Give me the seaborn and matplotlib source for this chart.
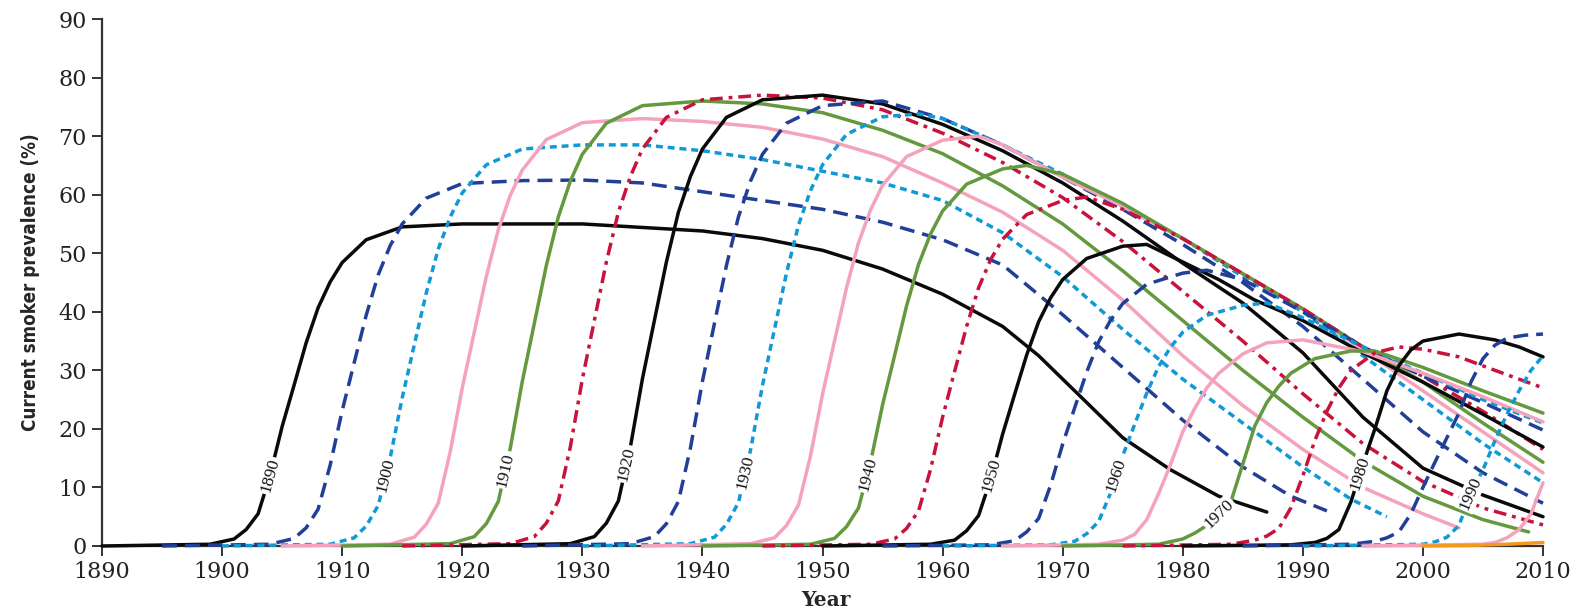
import numpy as np
import pandas as pd
import matplotlib
matplotlib.use("Agg")
import matplotlib.pyplot as plt
from matplotlib import font_manager as fm
import seaborn as sns

# ---------------- data ----------------
c1890_year = [1890, 1899, 1901, 1902, 1903, 1904, 1905, 1906, 1907, 1908, 1909, 1910, 1912, 1915, 1920, 1930, 1940, 1945, 1950, 1955, 1960, 1965, 1968, 1971, 1975, 1979, 1983, 1987]
c1890_val = [0, 0.3, 1.2, 2.8, 5.5, 12.1, 20.4, 27.5, 34.7, 40.7, 45.1, 48.4, 52.3, 54.5, 55, 55, 53.8, 52.5, 50.5, 47.3, 43, 37.5, 32.5, 26.5, 18.5, 13, 8.5, 5.8]

c1895_year = [1895, 1904, 1906, 1907, 1908, 1909, 1910, 1911, 1912, 1913, 1914, 1915, 1917, 1920, 1925, 1930, 1935, 1940, 1945, 1950, 1955, 1960, 1965, 1970, 1975, 1980, 1985, 1989, 1992]
c1895_val = [0, 0.3, 1.3, 3.1, 6.3, 13.8, 23.1, 31.3, 39.4, 46.3, 51.3, 55, 59.4, 61.9, 62.4, 62.5, 62, 60.5, 59, 57.5, 55.3, 52.3, 48, 39.5, 30.5, 21.5, 13.5, 8.5, 6]

c1900_year = [1900, 1909, 1911, 1912, 1913, 1914, 1915, 1916, 1917, 1918, 1919, 1920, 1922, 1925, 1930, 1935, 1940, 1945, 1950, 1955, 1960, 1965, 1970, 1975, 1980, 1985, 1990, 1994, 1997]
c1900_val = [0, 0.3, 1.4, 3.4, 6.9, 15.1, 25.3, 34.3, 43.2, 50.7, 56.2, 60.3, 65.1, 67.8, 68.5, 68.5, 67.5, 66, 64, 62, 59, 53.5, 46, 37, 28.5, 21, 13.5, 8, 5]

c1905_year = [1905, 1914, 1916, 1917, 1918, 1919, 1920, 1921, 1922, 1923, 1924, 1925, 1927, 1930, 1935, 1940, 1945, 1950, 1955, 1960, 1965, 1970, 1975, 1980, 1985, 1990, 1995, 2000, 2003]
c1905_val = [0, 0.3, 1.5, 3.7, 7.3, 16.1, 27, 36.5, 46, 54, 59.9, 64.2, 69.4, 72.3, 73, 72.5, 71.5, 69.5, 66.5, 62, 57, 50.5, 42, 32.5, 24, 16.5, 10, 5.5, 3.1]

c1910_year = [1910, 1919, 1921, 1922, 1923, 1924, 1925, 1926, 1927, 1928, 1929, 1930, 1932, 1935, 1940, 1945, 1950, 1955, 1960, 1965, 1970, 1975, 1980, 1985, 1990, 1995, 2000, 2005, 2008.8]
c1910_val = [0, 0.4, 1.6, 3.8, 7.6, 16.7, 28.1, 38, 47.9, 56.2, 62.3, 66.9, 72.2, 75.2, 76, 75.5, 74, 71, 67, 61.5, 55, 47, 38.5, 30, 22, 14.5, 8.5, 4.5, 2.4]

c1915_year = [1915, 1924, 1926, 1927, 1928, 1929, 1930, 1931, 1932, 1933, 1934, 1935, 1937, 1940, 1945, 1950, 1955, 1960, 1965, 1970, 1975, 1980, 1985, 1990, 1995, 2000, 2005, 2010]
c1915_val = [0, 0.4, 1.6, 3.9, 7.7, 16.9, 28.5, 38.5, 48.5, 57, 63.1, 67.8, 73.2, 76.2, 77, 76.5, 74.5, 70.5, 65.5, 59.5, 52, 43.5, 35, 26, 17.5, 11, 6.5, 3.6]

c1920_year = [1920, 1929, 1931, 1932, 1933, 1934, 1935, 1936, 1937, 1938, 1939, 1940, 1942, 1945, 1950, 1955, 1960, 1965, 1970, 1975, 1980, 1985, 1990, 1995, 2000, 2005, 2010]
c1920_val = [0, 0.4, 1.6, 3.9, 7.7, 16.9, 28.5, 38.5, 48.5, 57, 63.1, 67.8, 73.2, 76.2, 77, 75.5, 72, 67.5, 62, 55.5, 48.3, 41.5, 33, 22, 13.3, 8.7, 5]

c1925_year = [1925, 1934, 1936, 1937, 1938, 1939, 1940, 1941, 1942, 1943, 1944, 1945, 1947, 1950, 1955, 1960, 1965, 1970, 1975, 1980, 1985, 1990, 1995, 2000, 2005, 2010]
c1925_val = [0, 0.4, 1.6, 3.8, 7.6, 16.7, 28.1, 38, 47.9, 56.2, 62.3, 66.9, 72.2, 75.2, 76, 73, 68.5, 63, 57.5, 51.5, 45, 37.5, 28.5, 19.5, 12.5, 7.3]

c1930_year = [1930, 1939, 1941, 1942, 1943, 1944, 1945, 1946, 1947, 1948, 1949, 1950, 1952, 1955, 1958, 1960, 1965, 1970, 1975, 1980, 1985, 1990, 1995, 2000, 2005, 2010]
c1930_val = [0, 0.4, 1.5, 3.7, 7.4, 16.3, 27.4, 37, 46.6, 54.8, 60.7, 65.1, 70.3, 73.3, 73.8, 73, 68.5, 63.5, 58, 52.5, 46, 40, 32.5, 25, 17.5, 10.8]

c1935_year = [1935, 1944, 1946, 1947, 1948, 1949, 1950, 1951, 1952, 1953, 1954, 1955, 1957, 1960, 1963, 1965, 1970, 1975, 1980, 1985, 1990, 1995, 2000, 2005, 2010]
c1935_val = [0, 0.4, 1.4, 3.5, 7, 15.4, 25.9, 35, 44.1, 51.8, 57.4, 61.6, 66.5, 69.3, 70, 68.5, 63, 58, 52.5, 46.5, 40.5, 33.5, 26.5, 19.5, 12.5]

c1940_year = [1940, 1949, 1951, 1952, 1953, 1954, 1955, 1956, 1957, 1958, 1959, 1960, 1962, 1965, 1967, 1970, 1975, 1980, 1985, 1990, 1995, 2000, 2005, 2010]
c1940_val = [0, 0.3, 1.3, 3.3, 6.5, 14.3, 24.1, 32.5, 41, 48.1, 53.3, 57.2, 61.8, 64.4, 65, 63.5, 58.5, 52.5, 46.5, 40.5, 34, 28, 21, 14.3]

c1945_year = [1945, 1954, 1956, 1957, 1958, 1959, 1960, 1961, 1962, 1963, 1964, 1965, 1967, 1970, 1972, 1975, 1980, 1985, 1990, 1995, 2000, 2005, 2010]
c1945_val = [0, 0.3, 1.2, 3, 6, 13.1, 22, 29.8, 37.5, 44.1, 48.9, 52.4, 56.6, 59, 59.6, 57.5, 52.5, 46.5, 40.5, 34, 29, 23, 16.5]

c1950_year = [1950, 1959, 1961, 1962, 1963, 1964, 1965, 1966, 1967, 1968, 1969, 1970, 1972, 1975, 1977, 1980, 1983, 1986, 1990, 1995, 2000, 2005, 2010]
c1950_val = [0, 0.3, 1.0, 2.6, 5.2, 11.4, 19.1, 25.9, 32.6, 38.3, 42.4, 45.5, 49.1, 51.2, 51.5, 48.5, 45.5, 42, 38.5, 33, 28, 22.5, 16.9]

c1955_year = [1955, 1964, 1966, 1967, 1968, 1969, 1970, 1971, 1972, 1973, 1974, 1975, 1977, 1980, 1982, 1985, 1990, 1995, 2000, 2005, 2010]
c1955_val = [0, 0.2, 0.9, 2.4, 4.7, 10.4, 17.4, 23.6, 29.7, 34.9, 38.6, 41.4, 44.7, 46.6, 47.1, 45.5, 40, 34, 29, 24.5, 19.8]

c1960_year = [1960, 1969, 1971, 1972, 1973, 1974, 1975, 1976, 1977, 1978, 1979, 1980, 1982, 1985, 1987, 1990, 1995, 2000, 2005, 2010]
c1960_val = [0, 0.2, 0.8, 2.1, 4.2, 9.1, 15.4, 20.8, 26.1, 30.7, 34, 36.5, 39.4, 41.1, 41.5, 39, 34, 29.5, 25, 21]

c1965_year = [1965, 1973, 1975, 1976, 1977, 1978, 1979, 1980, 1981, 1982, 1983, 1985, 1987, 1990, 1995, 2000, 2005, 2010]
c1965_val = [0, 0.3, 1.0, 2, 4.5, 9, 14, 19.5, 23.5, 27, 29.5, 32.8, 34.7, 35.2, 33.2, 29.5, 25.5, 21.2]

c1970_year = [1970, 1978, 1980, 1981, 1982, 1983, 1984, 1985, 1986, 1987, 1988, 1989, 1991, 1994, 1996, 2000, 2005, 2010]
c1970_val = [0, 0.3, 1.2, 2.2, 3.5, 5.5, 7.5, 14, 20.5, 24.5, 27.3, 29.5, 32, 33.3, 33.3, 30.5, 26.5, 22.7]

c1975_year = [1975, 1984, 1986, 1987, 1988, 1989, 1990, 1991, 1992, 1993, 1994, 1996, 1998, 2000, 2003, 2006, 2010]
c1975_val = [0, 0.3, 1, 1.7, 3, 6.5, 12, 18, 23, 27, 30, 33, 34, 33.6, 32.3, 30, 27]

c1980_year = [1980, 1989, 1991, 1992, 1993, 1994, 1995, 1996, 1997, 1998, 1999, 2000, 2003, 2006, 2008, 2010]
c1980_val = [0, 0.2, 0.6, 1.3, 2.8, 7.5, 14, 20, 26.5, 30.8, 33.5, 35, 36.2, 35.2, 34, 32.3]

c1985_year = [1985, 1994, 1996, 1997, 1998, 1999, 2000, 2001, 2002, 2003, 2004, 2005, 2006, 2007, 2008.5, 2010]
c1985_val = [0, 0.3, 0.8, 1.4, 2.4, 5.5, 10, 14.3, 18.5, 22.7, 28, 32, 34.3, 35.5, 36, 36.2]

c1990_year = [1990, 2000, 2001, 2002, 2003, 2004, 2005, 2006, 2007, 2008, 2009, 2010]
c1990_val = [0, 0.3, 0.7, 1.5, 3.5, 9, 13, 18, 22.5, 26.5, 30, 32.5]

c1995_year = [1995, 2005, 2006, 2007, 2008, 2009, 2010]
c1995_val = [0, 0.3, 0.6, 1.4, 2.8, 5.5, 10.8]

c2000_year = [2000, 2004, 2007, 2010]
c2000_val = [0, 0.1, 0.3, 0.6]

cohorts = [1890, 1895, 1900, 1905, 1910, 1915, 1920, 1925, 1930, 1935, 1940, 1945,
           1950, 1955, 1960, 1965, 1970, 1975, 1980, 1985, 1990, 1995, 2000]
cohort_years = [c1890_year, c1895_year, c1900_year, c1905_year, c1910_year, c1915_year,
                c1920_year, c1925_year, c1930_year, c1935_year, c1940_year, c1945_year,
                c1950_year, c1955_year, c1960_year, c1965_year, c1970_year, c1975_year,
                c1980_year, c1985_year, c1990_year, c1995_year, c2000_year]
cohort_vals = [c1890_val, c1895_val, c1900_val, c1905_val, c1910_val, c1915_val,
               c1920_val, c1925_val, c1930_val, c1935_val, c1940_val, c1945_val,
               c1950_val, c1955_val, c1960_val, c1965_val, c1970_val, c1975_val,
               c1980_val, c1985_val, c1990_val, c1995_val, c2000_val]

labelled = [1890, 1900, 1910, 1920, 1930, 1940, 1950, 1960, 1970, 1980, 1990]
label_level = [12, 12, 13, 14, 12.6, 12.3, 12, 12, 5.5, 12.5, 9]

x_ticks = [1890, 1900, 1910, 1920, 1930, 1940, 1950, 1960, 1970, 1980, 1990, 2000, 2010]
y_ticks = [0, 10, 20, 30, 40, 50, 60, 70, 80, 90]

# ---------------- styling ----------------
BLACK = "#0a0a0a"
DBLUE = "#223f98"
LBLUE = "#0f9ad6"
PINK = "#f4a3bb"
GREEN = "#64993f"
RED = "#c8133c"
ORANGE = "#f39a1e"
style_cycle = [(BLACK, ""), (DBLUE, (4.3, 2.3)), (LBLUE, (2.0, 1.4)),
               (PINK, ""), (GREEN, ""), (RED, (3.7, 1.7, 1.1, 1.7))]

names = [str(c) for c in cohorts]
palette = {}
dashes = {}
for i, n in enumerate(names):
    if n == "2000":
        palette[n] = ORANGE
        dashes[n] = ""
    else:
        palette[n] = style_cycle[i % 6][0]
        dashes[n] = style_cycle[i % 6][1]

frames = []
for c, yrs, vals in zip(cohorts, cohort_years, cohort_vals):
    frames.append(pd.DataFrame({"year": yrs, "prev": vals, "cohort": str(c)}))
df = pd.concat(frames, ignore_index=True)

sns.set_theme(style="white")
plt.rcParams["font.family"] = ["DejaVu Serif", "DejaVu Sans"]


# pick a condensed bold sans for the y label if one is installed
def _is_condensed(f):
    s = f.stretch
    if isinstance(s, str):
        return "condensed" in s
    return s < 500


names_avail = {f.name for f in fm.fontManager.ttflist}
ylab_font = dict(family=["Liberation Sans", "DejaVu Sans"], fontsize=13.5)
if "Liberation Sans Narrow" in names_avail:
    ylab_font = dict(family=["Liberation Sans Narrow"], fontsize=16)
else:
    for fam in ["DejaVu Sans", "Noto Sans", "Open Sans", "Roboto"]:
        if any(f.name == fam and _is_condensed(f) for f in fm.fontManager.ttflist):
            ylab_font = dict(family=[fam], fontstretch="condensed", fontsize=13.5)
            break

fig = plt.figure(figsize=(15.8, 6.08), dpi=100)
ax = fig.add_axes([102 / 1580, 1 - 546 / 608, (1543 - 102) / 1580, (546 - 19) / 608])

sns.lineplot(data=df, x="year", y="prev", hue="cohort", style="cohort",
             hue_order=names, style_order=names, palette=palette, dashes=dashes,
             linewidth=2.5, legend=False, errorbar=None, estimator=None,
             sort=False, ax=ax)
for k, ln in enumerate(ax.lines):
    ln.set_clip_on(False)
    ln.set_zorder(3 + 0.01 * k)

ax.set_xlim(1890, 2010)
ax.set_ylim(0, 90)
ax.set_xticks(x_ticks)
ax.set_yticks(y_ticks)
ax.set_xticklabels([str(t) for t in x_ticks], fontsize=16, color="#222222")
ax.set_yticklabels([str(t) for t in y_ticks], fontsize=16, color="#222222")
for s in ["top", "right"]:
    ax.spines[s].set_visible(False)
for s in ["left", "bottom"]:
    ax.spines[s].set_color("#333333")
    ax.spines[s].set_linewidth(1.6)
ax.tick_params(axis="both", which="major", direction="out", length=7, width=1.4,
               color="#333333", pad=4, bottom=True, left=True)
ax.set_xlabel("Year", fontsize=14.5, fontweight="bold", family=["DejaVu Serif"])
ax.xaxis.set_label_coords(0.502, -0.083)
ax.set_ylabel("Current smoker prevalence (%)", fontweight="bold", **ylab_font)
ax.yaxis.set_label_coords(-0.043, 0.5)

# cohort labels placed on the rising part of each labelled curve
fig.canvas.draw()
for c, lvl in zip(labelled, label_level):
    i = cohorts.index(c)
    yrs = np.array(cohort_years[i], dtype=float)
    vals = np.array(cohort_vals[i], dtype=float)
    ipk = int(np.argmax(vals))
    x0 = float(np.interp(lvl, vals[:ipk + 1], yrs[:ipk + 1]))
    p1 = ax.transData.transform((x0 - 0.3, np.interp(x0 - 0.3, yrs, vals)))
    p2 = ax.transData.transform((x0 + 0.3, np.interp(x0 + 0.3, yrs, vals)))
    ang = np.degrees(np.arctan2(p2[1] - p1[1], p2[0] - p1[0]))
    ax.text(x0, lvl, str(c), rotation=ang, rotation_mode="anchor",
            ha="center", va="center", fontsize=12.5,
            family=["Liberation Serif"], color="#111111", zorder=10,
            bbox=dict(boxstyle="square,pad=0.1", fc="white", ec="none"))

fig.savefig("out.png", dpi=100, facecolor="white")
